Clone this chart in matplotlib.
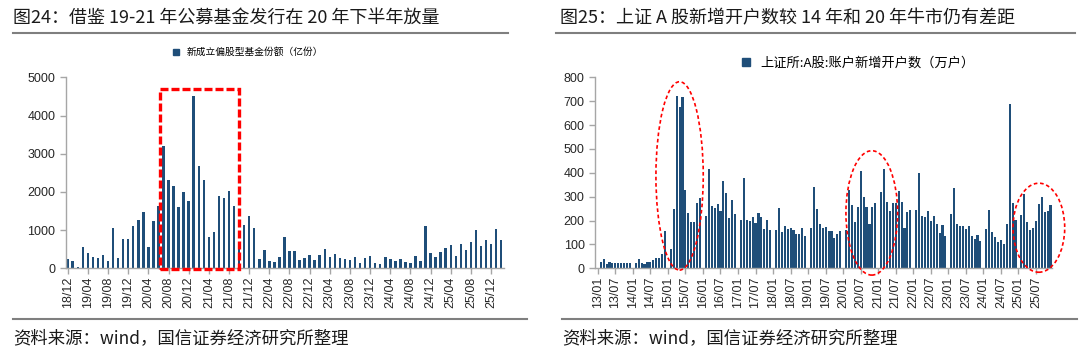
"""
Two bar panels: new equity fund issuance and SSE A-share new accounts.
"""

import numpy as np
import pandas as pd
import matplotlib
matplotlib.use("Agg")
import matplotlib.pyplot as plt
from matplotlib.patches import Rectangle, Ellipse
from matplotlib.lines import Line2D

# 新成立偏股型基金份额（亿份），2018/12 - 2026/02
fund_months = pd.period_range("2018-12", "2026-02", freq="M").strftime("%y/%m").tolist()
fund_vals = [240, 190, 40, 565, 410, 295, 260, 355, 190, 1060,
             280, 765, 757, 1113, 1270, 1478, 548, 1226, 1626, 3191,
             2304, 2165, 1600, 2000, 1765, 4513, 2670, 2313, 817, 948,
             1904, 1843, 2017, 1643, 570, 1130, 1374, 1052, 243, 478,
             190, 157, 296, 817, 443, 443, 217, 278, 339, 209,
             357, 504, 287, 365, 270, 243, 209, 296, 130, 270,
             330, 148, 122, 296, 235, 191, 235, 157, 130, 313,
             200, 1113, 400, 287, 417, 530, 600, 322, 626, 487,
             687, 991, 574, 739, 626, 1035, 730]
fund_ticks = ["18/12", "19/04", "19/08", "19/12", "20/04", "20/08", "20/12",
              "21/04", "21/08", "21/12", "22/04", "22/08", "22/12", "23/04",
              "23/08", "23/12", "24/04", "24/08", "24/12", "25/04", "25/08",
              "25/12"]

# 上证所:A股:账户新增开户数（万户），2013/01 - 2025/12, January not reported
acct_months = pd.period_range("2013-01", "2025-12", freq="M").strftime("%y/%m").tolist()
acct_vals = [
    None, 25, 40, 18, 27, 22, 22, 22, 22, 24, 24, 24,          # 2013
    None, 24, 38, 21, 20, 26, 28, 34, 45, 43, 59, 155,         # 2014
    None, 82, 250, 723, 677, 716, 330, 230, 193, 193, 275, 295,  # 2015
    None, 219, 415, 263, 253, 268, 240, 366, 317, 211, 285, 228,  # 2016
    None, 203, 377, 201, 198, 215, 189, 233, 214, 166, 203, 161,  # 2017
    None, 161, 251, 154, 176, 165, 168, 162, 144, 142, 168, 135,  # 2018
    None, 168, 342, 249, 184, 168, 172, 156, 156, 126, 142, 156,  # 2019
    None, 161, 328, 264, 196, 257, 409, 299, 257, 184, 257, 272,  # 2020
    None, 320, 415, 279, 240, 272, 275, 323, 279, 170, 236, 244,  # 2021
    None, 243, 399, 219, 214, 239, 197, 218, 184, 147, 182, 135,  # 2022
    None, 228, 338, 186, 177, 177, 166, 177, 135, 122, 138, 115,  # 2023
    None, 166, 244, 151, 133, 110, 119, 102, 186, 689, 272, 201,  # 2024
    None, 223, 310, 196, 159, 169, 200, 270, 299, 235, 242, 264,  # 2025
]
acct_ticks = [f"{y}/{m}" for y in range(13, 26) for m in ("01", "07")]

BLUE = "#1F4E79"
AXIS_GREY = "#A6A6A6"
LINE_GREY = "#7F7F7F"
CJK = ["Noto Sans CJK SC", "DejaVu Sans"]

plt.rcParams["font.family"] = ["Liberation Sans", "Noto Sans CJK SC"]


def style_axes(ax):
    for side in ("top", "right"):
        ax.spines[side].set_visible(False)
    for side in ("left", "bottom"):
        ax.spines[side].set_color(AXIS_GREY)
        ax.spines[side].set_linewidth(1.0)
    ax.tick_params(direction="out", length=4, width=1, color=AXIS_GREY,
                   labelsize=9, labelcolor="#262626")
    ax.tick_params(axis="x", labelrotation=90, pad=2)


def fig_px(x, y):
    """pixel position in the 1080x358 picture -> figure fraction"""
    return x / 1080, 1 - y / 358


fig = plt.figure(figsize=(10.8, 3.58), dpi=100)

# left panel
ax1 = fig.add_axes([65.7 / 1080, 1 - 268.3 / 358, 438.5 / 1080, 191 / 358])
x1 = np.arange(len(fund_months))
ax1.bar(x1, fund_vals, width=0.5, color=BLUE, label="新成立偏股型基金份额（亿份）")
ax1.set_xlim(-0.4, 86.6)
ax1.set_ylim(0, 5000)
ax1.set_yticks(range(0, 5001, 1000))
ax1.set_xticks([fund_months.index(t) for t in fund_ticks])
ax1.set_xticklabels(fund_ticks)
style_axes(ax1)
ax1.add_patch(Rectangle((18.3, -30), 15.7, 4720, fill=False, edgecolor="#FF0000",
                        lw=2.4, linestyle=(0, (2.4, 0.9)), clip_on=False, zorder=5))
h1 = [Line2D([], [], marker="s", color=BLUE, linestyle="None", markersize=4.5)]
ax1.legend(h1, ["新成立偏股型基金份额（亿份）"], loc="center",
           bbox_to_anchor=fig_px(245, 52), bbox_transform=fig.transFigure,
           frameon=False, handletextpad=0.1, borderpad=0,
           prop={"family": CJK, "size": 7})

# right panel
ax2 = fig.add_axes([595 / 1080, 1 - 268.3 / 358, 457.3 / 1080, 191 / 358])
x2 = np.arange(len(acct_months))
vals2 = np.array([np.nan if v is None else v for v in acct_vals], dtype=float)
ax2.bar(x2, vals2, width=0.72, color=BLUE)
ax2.set_xlim(-0.96, 155.6)
ax2.set_ylim(0, 800)
ax2.set_yticks(range(0, 801, 100))
ax2.set_xticks([acct_months.index(t) for t in acct_ticks])
ax2.set_xticklabels(acct_ticks)
style_axes(ax2)
for cx, cy, w, h in [(28.0, 387, 16.2, 789), (93.8, 232, 17.7, 521), (151.0, 170, 17.7, 373)]:
    ax2.add_patch(Ellipse((cx, cy), w, h, fill=False, edgecolor="#FF0000", lw=1.2,
                          linestyle=(0, (2.2, 1.6)), clip_on=False, zorder=5))
h2 = [Line2D([], [], marker="s", color=BLUE, linestyle="None", markersize=6)]
ax2.legend(h2, ["上证所:A股:账户新增开户数（万户）"], loc="center",
           bbox_to_anchor=fig_px(854, 63), bbox_transform=fig.transFigure,
           frameon=False, handletextpad=0.1, borderpad=0,
           prop={"family": CJK, "size": 9.5})

# titles, rules and source notes
fig.text(*fig_px(13, 18), "图24：借鉴 19-21 年公募基金发行在 20 年下半年放量",
         family=CJK, fontsize=13, color="#1a1a1a", va="center", ha="left")
fig.text(*fig_px(560, 18), "图25：上证 A 股新增开户数较 14 年和 20 年牛市仍有差距",
         family=CJK, fontsize=13, color="#1a1a1a", va="center", ha="left")
for x0, x1_, y in [(13, 508, 33), (556, 1075, 33), (13, 527, 319), (562, 1077, 319)]:
    a, b = fig_px(x0, y)
    c, _ = fig_px(x1_, y)
    fig.add_artist(Line2D([a, c], [b, b], color=LINE_GREY, lw=1.5,
                          transform=fig.transFigure))
for x0 in (13, 562):
    fig.text(*fig_px(x0, 338), "资料来源：wind，国信证券经济研究所整理",
             family=CJK, fontsize=12.5, color="#1a1a1a", va="center", ha="left")

fig.savefig("out.png", dpi=100)
print("saved out.png")
